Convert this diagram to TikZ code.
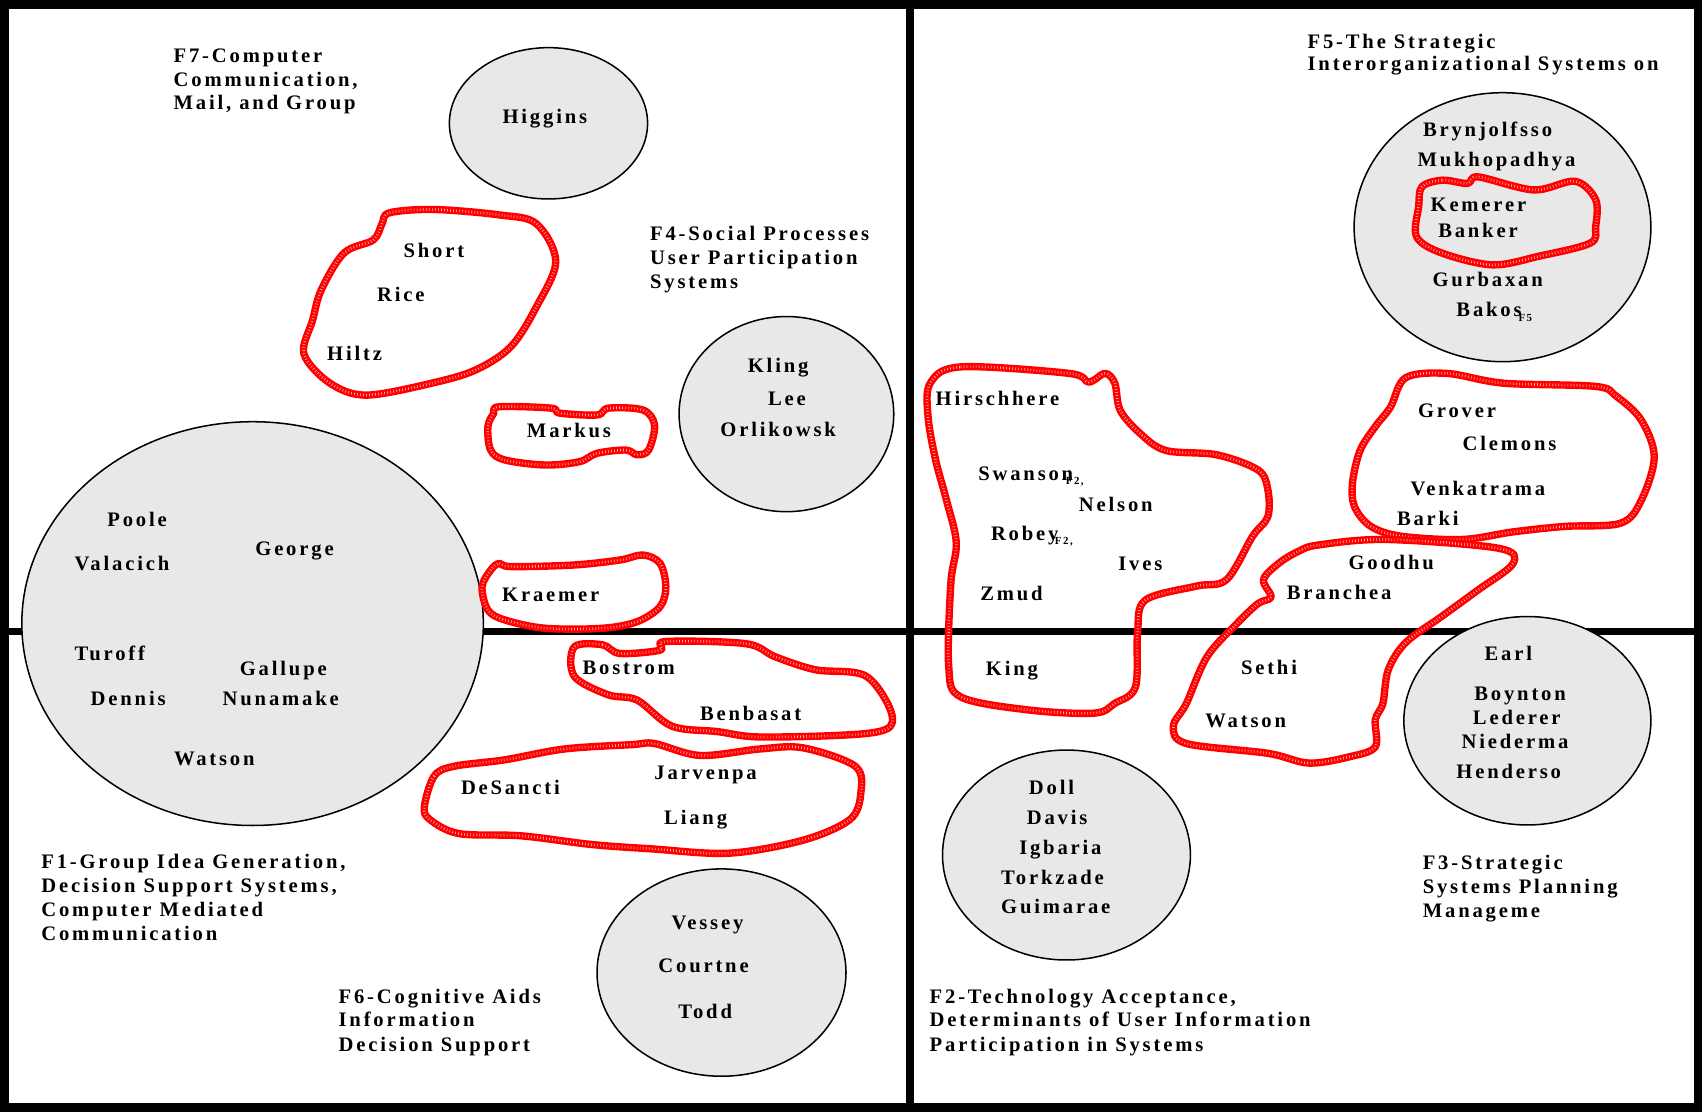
\documentclass[tikz,border=0pt]{standalone}
\usepackage{fontspec}
\setmainfont{Liberation Serif}[LetterSpace=13.7]
\usetikzlibrary{shapes.geometric}
\definecolor{ellgray}{HTML}{E8E8E8}
\definecolor{blobred}{HTML}{FF0000}
\definecolor{ribtick}{HTML}{FFB0B0}
\begin{document}
\begin{tikzpicture}[x=1pt,y=-1pt,
  font=\bfseries\fontsize{19}{22}\selectfont,
  tx/.style={anchor=base west,inner sep=0pt,outer sep=0pt},
  subtx/.style={anchor=base west,inner sep=0pt,outer sep=0pt,font=\bfseries\fontsize{10}{10}\selectfont},
  grayell/.style={ellipse,draw=black,line width=1.4pt,fill=ellgray,inner sep=0pt},
  redblob/.style={draw=blobred,line width=6.8pt,line join=round,
    postaction={draw=ribtick,line width=2.4pt,dash pattern=on 0.6pt off 2.2pt}}]
\useasboundingbox (0,0) rectangle (1568,1024);
% frame and dividers
\draw[line width=8pt] (4,4) rectangle (1565,1020);
\draw[line width=7pt] (838.5,4) -- (838.5,1020);
\draw[line width=6pt] (4,582) -- (1565,582);
% grey ellipses
\node[grayell,minimum width=182.6pt,minimum height=139.4pt] (ehiggins) at (505.3,113.6) {};
\node[grayell,minimum width=197.8pt,minimum height=179.8pt] (ekling) at (724.5,381.5) {};
\node[grayell,minimum width=425.2pt,minimum height=372pt] (egroup) at (232.7,574.5) {};
\node[grayell,minimum width=273.4pt,minimum height=247.8pt] (estrat) at (1384.2,209.3) {};
\node[grayell,minimum width=227.6pt,minimum height=192pt] (eearl) at (1407.1,664) {};
\node[grayell,minimum width=228.4pt,minimum height=193.4pt] (edoll) at (982.5,787.7) {};
\node[grayell,minimum width=229.4pt,minimum height=191pt] (evessey) at (664.7,896) {};
% red blobs
\draw[redblob] plot[smooth cycle,tension=0.55] coordinates {(352,206) (359,196) (400,193) (460,198) (494,206) (512,241) (494,283) (471,319) (440,340) (402,352) (338,364) (304,353) (280,326) (288,295) (296,267) (317,233) (344,221)};
\draw[redblob] plot[smooth cycle,tension=0.55] coordinates {(454.8,380.8) (460,374.7) (507.7,376) (515.7,380.6) (550,382.3) (560.6,376) (592.3,377.7) (603,391.5) (597.6,414.6) (587,419) (576.4,414.6) (550,417.6) (534,425.3) (502.4,428.4) (465.3,423.8) (452,414.6) (449.5,393)};
\draw[redblob] plot[smooth cycle,tension=0.55] coordinates {(452.2,525) (460,519) (470.7,522) (528.8,520.5) (571.2,515.9) (592.3,511.3) (608.1,519) (613.4,540.5) (608.1,558.9) (587,572.7) (555.3,578.8) (502.4,578.8) (465.3,571.2) (449.5,562) (444.1,540.5)};
\draw[redblob] plot[smooth cycle,tension=0.55] coordinates {(529,596) (555,594) (571,602) (608,599) (613,591) (687,593) (714,605) (751,617) (798,623) (822,660) (804,675) (703,679) (661,674) (619,669) (587,645) (560,640) (529,623)};
\draw[redblob] plot[smooth cycle,tension=0.55] coordinates {(391,743) (400,715) (418,706) (465,700) (520,690) (582,686) (603,685) (645,696) (700,690) (740,689) (788,706) (793,731) (783,755) (740,774) (672,786) (600,782) (545,778) (480,770) (423,768) (396,755)};
\draw[redblob] plot[smooth cycle,tension=0.55] coordinates {(857,353) (885,338) (985,344) (1003,352) (1018,344) (1027,353) (1032,378) (1050,399) (1074,415) (1121,419) (1159,433) (1168,451) (1168,476) (1154,494) (1130,534) (1102,540) (1055,553) (1048,583) (1046,633) (1027,648) (1008,657) (947,654) (885,642) (874,614) (876,537) (881,500) (872,461) (862,424) (855,384)};
\draw[redblob] plot[smooth cycle,tension=0.55] coordinates {(1295,348) (1333,344) (1385,353) (1470,356) (1489,365) (1512,387) (1524,421) (1512,461) (1493,482) (1441,485) (1394,490) (1347,497) (1291,494) (1263,485) (1248,467) (1246,445) (1253,415) (1267,393) (1281,375)};
\draw[redblob] plot[smooth cycle,tension=0.55] coordinates {(1196,508) (1215,502) (1277,497) (1380,505) (1394,519) (1361,544) (1328,568) (1295,592) (1279,617) (1274,648) (1267,663) (1267,688) (1244,697) (1206,703) (1168,694) (1093,685) (1081,669) (1093,648) (1112,605) (1140,574) (1159,556) (1171,550) (1164,534) (1178,519)};
\draw[redblob] plot[smooth cycle,tension=0.55] coordinates {(1310,172) (1329,166) (1352,169) (1362,163) (1413,175) (1451,167) (1470,184) (1470,209) (1465,224) (1418,236) (1375,244) (1328,233) (1305,218) (1307,190)};
% factor labels
\node[tx] (f7a) at (160,57.7) {F7-Computer};
\node[tx] (f7b) at (160,79.9) {Communication,};
\node[tx] (f7c) at (160,101.3) {Mail, and Group};
\node[tx] (f4a) at (599,221.7) {F4-Social Processes};
\node[tx] (f4b) at (599,244) {User Participation};
\node[tx] (f4c) at (599,266) {Systems};
\node[tx] (f5a) at (1204.7,44.5) {F5-The Strategic};
\node[tx] (f5b) at (1204.7,65.4) {Interorganizational Systems on};
\node[tx] (f1a) at (38.1,800) {F1-Group Idea Generation,};
\node[tx] (f1b) at (38.1,822.3) {Decision Support Systems,};
\node[tx] (f1c) at (38.1,844.5) {Computer Mediated};
\node[tx] (f1d) at (38.1,866.6) {Communication};
\node[tx] (f6a) at (312,924.3) {F6-Cognitive Aids};
\node[tx] (f6b) at (312,945.8) {Information};
\node[tx] (f6c) at (312,968.3) {Decision Support};
\node[tx] (f2a) at (856.5,924.3) {F2-Technology Acceptance,};
\node[tx] (f2b) at (856.5,945.8) {Determinants of User Information};
\node[tx] (f2c) at (856.5,968.3) {Participation in Systems};
\node[tx] (f3a) at (1310.8,800.9) {F3-Strategic};
\node[tx] (f3b) at (1310.8,823) {Systems Planning};
\node[tx] (f3c) at (1310.8,845.4) {Manageme};
% names
\node[tx] (higgins) at (463,113.6) {Higgins};
\node[tx] (short) at (371.8,237) {Short};
\node[tx] (rice) at (347.5,278) {Rice};
\node[tx] (hiltz) at (301.4,331.7) {Hiltz};
\node[tx] (kling) at (689,343) {Kling};
\node[tx] (lee) at (707.6,373.7) {Lee};
\node[tx] (orlikowsk) at (663.7,401.7) {Orlikowsk};
\node[tx] (markus) at (485.5,403.2) {Markus};
\node[tx] (poole) at (98.9,484.6) {Poole};
\node[tx] (george) at (235.3,512.2) {George};
\node[tx] (valacich) at (68.8,526) {Valacich};
\node[tx] (kraemer) at (462.7,553.7) {Kraemer};
\node[tx] (turoff) at (68.8,608.9) {Turoff};
\node[tx] (gallupe) at (221,622.2) {Gallupe};
\node[tx] (dennis) at (83.6,649.5) {Dennis};
\node[tx] (nunamake) at (205.2,649.5) {Nunamake};
\node[tx] (watsona) at (160.3,704.8) {Watson};
\node[tx] (bostrom) at (536.8,621.8) {Bostrom};
\node[tx] (benbasat) at (645,663.9) {Benbasat};
\node[tx] (jarvenpa) at (602.9,717.7) {Jarvenpa};
\node[tx] (desancti) at (424.7,731.5) {DeSancti};
\node[tx] (liang) at (611.9,760) {Liang};
\node[tx] (vessey) at (618.7,856.2) {Vessey};
\node[tx] (courtne) at (606.6,896.1) {Courtne};
\node[tx] (todd) at (625,938.2) {Todd};
\node[tx] (brynjolfsso) at (1311,125.9) {Brynjolfsso};
\node[tx] (mukhopadhya) at (1306,153.5) {Mukhopadhya};
\node[tx] (kemerer) at (1318,195.3) {Kemerer};
\node[tx] (banker) at (1325,218.6) {Banker};
\node[tx] (gurbaxan) at (1319.7,263.5) {Gurbaxan};
\node[tx] (bakos) at (1341.8,291.7) {Bakos};
\node[subtx] (bakossub) at (1399,296.3) {F5};
\node[tx] (hirschhere) at (862,374) {Hirschhere};
\node[tx] (swanson) at (901.3,443.1) {Swanson};
\node[subtx] (swansonsub) at (982,446.8) {F2,};
\node[tx] (nelson) at (994,470.8) {Nelson};
\node[tx] (robey) at (913,498.4) {Robey};
\node[subtx] (robeysub) at (971.9,501.5) {F2,};
\node[tx] (ives) at (1030.3,525.7) {Ives};
\node[tx] (zmud) at (903.1,553.4) {Zmud};
\node[tx] (king) at (908.3,622.5) {King};
\node[tx] (grover) at (1306.4,384.5) {Grover};
\node[tx] (clemons) at (1347.5,415.2) {Clemons};
\node[tx] (venkatrama) at (1299.5,456.6) {Venkatrama};
\node[tx] (barki) at (1287,484.3) {Barki};
\node[tx] (goodhu) at (1242.4,525.1) {Goodhu};
\node[tx] (branchea) at (1185.6,552.7) {Branchea};
\node[tx] (sethi) at (1143.3,621.2) {Sethi};
\node[tx] (watsonb) at (1110.5,670.4) {Watson};
\node[tx] (earl) at (1367.7,608.6) {Earl};
\node[tx] (boynton) at (1358.3,645.5) {Boynton};
\node[tx] (lederer) at (1357,667.9) {Lederer};
\node[tx] (niederma) at (1346.5,689.4) {Niederma};
\node[tx] (henderso) at (1341.8,717) {Henderso};
\node[tx] (doll) at (947.9,732.4) {Doll};
\node[tx] (davis) at (946,760) {Davis};
\node[tx] (igbaria) at (939,787) {Igbaria};
\node[tx] (torkzade) at (922.4,814.7) {Torkzade};
\node[tx] (guimarae) at (922.4,842) {Guimarae};
\end{tikzpicture}
\end{document}
